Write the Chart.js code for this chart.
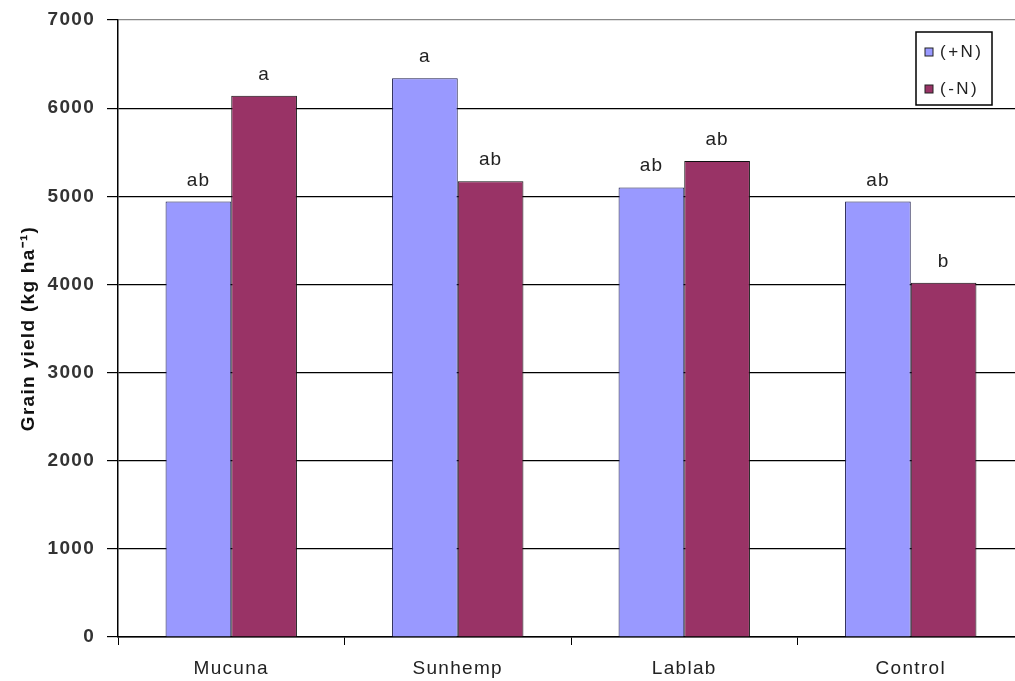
<!DOCTYPE html>
<html>
<head>
<meta charset="utf-8">
<script src="https://cdn.jsdelivr.net/npm/chart.js@4.4.1/dist/chart.umd.min.js"></script>
<style>
  html, body { margin: 0; padding: 0; background: #fff; overflow: hidden; }
  #wrap { position: relative; width: 1040px; height: 681px; }
</style>
</head>
<body>
<div id="wrap"><canvas id="chart"></canvas></div>
<script>
// data
const categories = ['Mucuna', 'Sunhemp', 'Lablab', 'Control'];
const seriesNames = ['(+N)', '(-N)'];
const withN = [4940, 6340, 5100, 4940];
const withoutN = [6140, 5170, 5400, 4020];
const withNLetters = ['ab', 'a', 'ab', 'ab'];
const withoutNLetters = ['a', 'ab', 'ab', 'b'];
const yMin = 0, yMax = 7000, yStep = 1000;

const FONT = '"Liberation Sans", Arial, sans-serif';
const BLUE = '#9999ff';
const PLUM = '#993366';

// the old chart has slightly spaced-out lettering
const spacing = {
  id: 'spacing',
  beforeDraw(chart) { chart.ctx.letterSpacing = '1.3px'; }
};

// letters above each bar
const letterPlugin = {
  id: 'letters',
  afterDatasetsDraw(chart) {
    const ctx = chart.ctx;
    const letters = [withNLetters, withoutNLetters];
    ctx.save();
    ctx.font = '19px ' + FONT;
    ctx.letterSpacing = '1px';
    ctx.fillStyle = '#222';
    ctx.textAlign = 'center';
    ctx.textBaseline = 'alphabetic';
    chart.data.datasets.forEach((ds, i) => {
      chart.getDatasetMeta(i).data.forEach((bar, j) => {
        ctx.fillText(letters[i][j], bar.x, bar.y - 16);
      });
    });
    ctx.restore();
  }
};

// boxed legend in the upper right corner
const boxLegend = {
  id: 'boxLegend',
  afterDraw(chart) {
    const ctx = chart.ctx;
    const x = 916, y = 32, w = 76, h = 73;
    ctx.save();
    ctx.fillStyle = '#fff';
    ctx.fillRect(x, y, w, h);
    ctx.strokeStyle = '#000';
    ctx.lineWidth = 1.5;
    ctx.strokeRect(x, y, w, h);
    ctx.font = '17px ' + FONT;
    ctx.letterSpacing = '2.5px';
    ctx.textBaseline = 'middle';
    chart.data.datasets.forEach((ds, i) => {
      const cy = y + 20 + i * 37;
      ctx.fillStyle = ds.backgroundColor;
      ctx.fillRect(x + 9, cy - 4, 8, 8);
      ctx.strokeStyle = '#222';
      ctx.lineWidth = 1;
      ctx.strokeRect(x + 9, cy - 4, 8, 8);
      ctx.fillStyle = '#222';
      ctx.fillText(ds.label, x + 24, cy);
    });
    ctx.restore();
  }
};

new Chart(document.getElementById('chart'), {
  type: 'bar',
  data: {
    labels: categories,
    datasets: [
      { label: seriesNames[0], data: withN, backgroundColor: BLUE, borderColor: '#1a1a4a', borderWidth: 1 },
      { label: seriesNames[1], data: withoutN, backgroundColor: PLUM, borderColor: '#111', borderWidth: 1 }
    ]
  },
  options: {
    responsive: true,
    maintainAspectRatio: false,
    animation: false,
    layout: { padding: { top: 20, right: 16, left: 0, bottom: 0 } },
    datasets: { bar: { categoryPercentage: 0.58, barPercentage: 1.0 } },
    plugins: {
      legend: { display: false },
      tooltip: { enabled: false }
    },
    scales: {
      x: {
        grid: { offset: true, drawOnChartArea: false, drawTicks: true, tickLength: 8, color: '#000', lineWidth: 1 },
        border: { color: '#000', width: 1.5 },
        ticks: { color: '#222', font: { family: FONT, size: 19 }, padding: 12 },
        afterFit(scale) { scale.height = 44; }
      },
      y: {
        min: yMin,
        max: yMax,
        ticks: {
          stepSize: yStep,
          color: '#333',
          font: { family: FONT, size: 19, weight: 'bold' },
          padding: 12,
          callback: v => String(v)
        },
        grid: {
          color: ctx => (ctx.tick && ctx.tick.value === yMax) ? '#888' : '#000',
          tickColor: '#000',
          lineWidth: 1.2,
          tickLength: 11
        },
        border: { color: '#000', width: 1.5 },
        title: {
          display: true,
          text: 'Grain yield (kg ha⁻¹)',
          color: '#111',
          font: { family: FONT, size: 19, weight: 'bold' },
          padding: { top: 17, bottom: 0 }
        },
        afterFit(scale) {
          scale.width = 118;
          scale.paddingTop = 0;
          scale.paddingBottom = 0;
        }
      }
    }
  },
  plugins: [spacing, letterPlugin, boxLegend]
});
</script>
</body>
</html>
